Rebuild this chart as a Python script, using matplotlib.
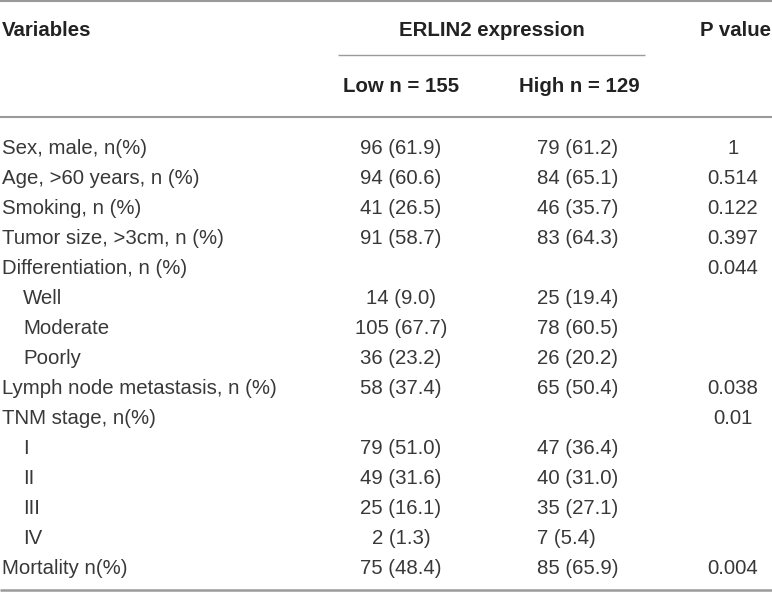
import matplotlib.pyplot as plt

# table content
variables = [
    "Sex, male, n(%)",
    "Age, >60 years, n (%)",
    "Smoking, n (%)",
    "Tumor size, >3cm, n (%)",
    "Differentiation, n (%)",
    "Well",
    "Moderate",
    "Poorly",
    "Lymph node metastasis, n (%)",
    "TNM stage, n(%)",
    "I",
    "II",
    "III",
    "IV",
    "Mortality n(%)",
]
indented = [False, False, False, False, False, True, True, True,
            False, False, True, True, True, True, False]
low_vals = ["96 (61.9)", "94 (60.6)", "41 (26.5)", "91 (58.7)", "",
            "14 (9.0)", "105 (67.7)", "36 (23.2)", "58 (37.4)", "",
            "79 (51.0)", "49 (31.6)", "25 (16.1)", "2 (1.3)", "75 (48.4)"]
high_vals = ["79 (61.2)", "84 (65.1)", "46 (35.7)", "83 (64.3)", "",
             "25 (19.4)", "78 (60.5)", "26 (20.2)", "65 (50.4)", "",
             "47 (36.4)", "40 (31.0)", "35 (27.1)", "7 (5.4)", "85 (65.9)"]
p_vals = ["1", "0.514", "0.122", "0.397", "0.044", "", "", "",
          "0.038", "0.01", "", "", "", "", "0.004"]

W, H = 772, 593
fig = plt.figure(figsize=(W / 100, H / 100), dpi=100)
ax = fig.add_axes([0, 0, 1, 1])
ax.set_xlim(0, W)
ax.set_ylim(H, 0)
ax.axis("off")

font = "Liberation Sans"
fs = 14.7
txt = "#383838"
bold_c = "#222222"
line_c = "#9a9a9a"

# header
ax.text(2, 30, "Variables", fontsize=fs, fontweight="bold", color=bold_c,
        family=font, va="center", ha="left")
ax.text(492, 30, "ERLIN2 expression", fontsize=fs, fontweight="bold",
        color=bold_c, family=font, va="center", ha="center")
ax.text(735, 30, "P value", fontsize=fs, fontweight="bold", color=bold_c,
        family=font, va="center", ha="center")
ax.text(401, 86, "Low n = 155", fontsize=fs, fontweight="bold", color=bold_c,
        family=font, va="center", ha="center")
ax.text(579, 86, "High n = 129", fontsize=fs, fontweight="bold", color=bold_c,
        family=font, va="center", ha="center")

# rules
ax.plot([0, W], [1, 1], color=line_c, lw=1.5, solid_capstyle="butt")
ax.plot([338, 645], [55, 55], color=line_c, lw=1.0, solid_capstyle="butt")
ax.plot([0, W], [117, 117], color=line_c, lw=1.5, solid_capstyle="butt")
ax.plot([0, W], [590, 590], color=line_c, lw=1.8, solid_capstyle="butt")

# body rows
y0, dy = 149, 30
for i, name in enumerate(variables):
    y = y0 + dy * i
    x = 23 if indented[i] else 2
    ax.text(x, y, name, fontsize=fs, color=txt, family=font,
            va="center", ha="left")
    if low_vals[i]:
        ax.text(401, y, low_vals[i], fontsize=fs, color=txt, family=font,
                va="center", ha="center")
    if high_vals[i]:
        ax.text(537, y, high_vals[i], fontsize=fs, color=txt, family=font,
                va="center", ha="left")
    if p_vals[i]:
        ax.text(733, y, p_vals[i], fontsize=fs, color=txt, family=font,
                va="center", ha="center")

fig.savefig("out.png", dpi=100, facecolor="white")
